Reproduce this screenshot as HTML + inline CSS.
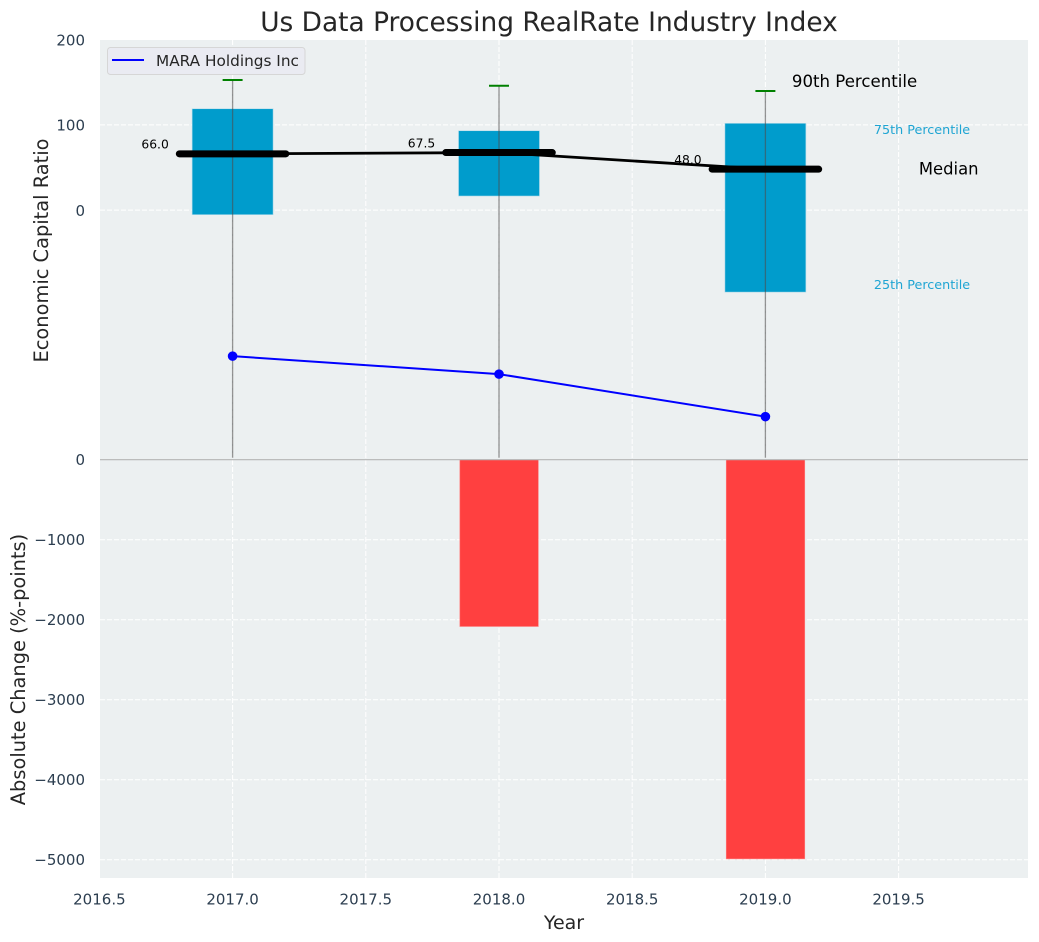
<!DOCTYPE html>
<html>
<head>
<meta charset="utf-8">
<title>Us Data Processing RealRate Industry Index</title>
<style>
html,body{margin:0;padding:0;background:#fff;}
svg{display:block;font-family:"DejaVu Sans","Liberation Sans",sans-serif;}
</style>
</head>
<body>
<svg id="chart" xmlns="http://www.w3.org/2000/svg" width="1039" height="942" viewBox="0 0 1039 942"></svg>
<script>
const years = [2017, 2018, 2019];
const p90 = [152.6, 145.9, 139.7];
const p75 = [118.9, 93.1, 101.8];
const medians = [66, 67.5, 48];
const p25 = [-5.4, 16.5, -96.2];
const whiskerLow = [-290.5, -290.5, -290.5];
const company = [-171.3, -192.4, -242.3];
const absChange = [0, -2085, -4990];
const xTicks = [2016.5, 2017, 2017.5, 2018, 2018.5, 2019, 2019.5];
const xTickLabels = ['2016.5', '2017.0', '2017.5', '2018.0', '2018.5', '2019.0', '2019.5'];
const upperTicks = [0, 100, 200];
const upperTickLabels = ['0', '100', '200'];
const lowerTicks = [0, -1000, -2000, -3000, -4000, -5000];
const lowerTickLabels = ['0', '\u22121000', '\u22122000', '\u22123000', '\u22124000', '\u22125000'];
const medianLabels = ['66.0', '67.5', '48.0'];
const companyName = 'MARA Holdings Inc';

const svg = document.getElementById('chart');
const NS = 'http://www.w3.org/2000/svg';
const plotLeft = 100, plotRight = 1028, upperTop = 40, upperBottom = 459.5, lowerBottom = 878;

function xScale(v) { return 232.6 + (v - 2017) * 266.4; }
function yUpper(v) { return 210.1 - v * 0.8525; }
function yLower(v) { return 459.7 - v * 0.0800; }

function make(tag, attrs, text) {
  const el = document.createElementNS(NS, tag);
  for (const k in attrs) el.setAttribute(k, attrs[k]);
  if (text !== undefined) el.textContent = text;
  svg.appendChild(el);
  return el;
}

let el;

el = make('rect', {x: plotLeft, y: upperTop, width: plotRight - plotLeft, height: lowerBottom - upperTop, fill: '#ecf0f1'});



xTicks.forEach(function (t, i) {
  const x = xScale(t);
  if (x > plotLeft + 1) {
    el = make('line', {x1: x, x2: x, y1: upperTop, y2: lowerBottom, stroke: '#fff', 'stroke-width': 1, 'stroke-dasharray': '5 2'});
    
    
  }
  el = make('text', {x: x, y: 904.5, 'text-anchor': 'middle', 'font-size': 15, fill: '#2c3e50'}, xTickLabels[i]);
  
  
});

upperTicks.forEach(function (t, i) {
  const y = yUpper(t);
  if (t !== 200) {
    el = make('line', {x1: plotLeft, x2: plotRight, y1: y, y2: y, stroke: '#fff', 'stroke-width': 1, 'stroke-dasharray': '5 2'});
    
    
  }
  el = make('text', {x: 85, y: y + 5.8, 'text-anchor': 'end', 'font-size': 15, fill: '#2c3e50'}, upperTickLabels[i]);
  
  
});

lowerTicks.forEach(function (t, i) {
  const y = yLower(t);
  if (t !== 0) {
    el = make('line', {x1: plotLeft, x2: plotRight, y1: y, y2: y, stroke: '#fff', 'stroke-width': 1, 'stroke-dasharray': '5 2'});
    
    
  }
  el = make('text', {x: 85, y: y + 5.5, 'text-anchor': 'end', 'font-size': 15, fill: '#2c3e50'}, lowerTickLabels[i]);
  
  
});

const boxHalf = 0.152;
const barHalf = 0.15;
years.forEach(function (yr, i) {
  const x0 = xScale(yr - boxHalf), x1 = xScale(yr + boxHalf);
  el = make('rect', {x: x0, y: yUpper(p75[i]), width: x1 - x0, height: yUpper(p25[i]) - yUpper(p75[i]), fill: '#009ccc', stroke: '#b5dcea', 'stroke-width': 0.6});
  
  

  el = make('line', {x1: xScale(yr), x2: xScale(yr), y1: yUpper(p90[i]), y2: yUpper(whiskerLow[i]), stroke: '#4d4d4d', 'stroke-opacity': 0.6, 'stroke-width': 1.3});
  
  

  el = make('line', {x1: xScale(yr - 0.0375), x2: xScale(yr + 0.0375), y1: yUpper(p90[i]), y2: yUpper(p90[i]), stroke: '#008000', 'stroke-width': 2});
  
  

  if (absChange[i] !== 0) {
    const bx0 = xScale(yr - barHalf), bx1 = xScale(yr + barHalf);
    el = make('rect', {x: bx0 + 0.8, y: yLower(0), width: bx1 - bx0 - 1.4, height: yLower(absChange[i]) - yLower(0), fill: '#ff4040', stroke: '#ff8080', 'stroke-width': 0.6});
    
    
  }
});

el = make('line', {x1: plotLeft, x2: plotRight, y1: 459.7, y2: 459.7, stroke: '#b4b4b4', 'stroke-width': 1.2});



el = make('polyline', {points: years.map(function (yr, i) { return xScale(yr) + ',' + yUpper(medians[i]); }).join(' '), fill: 'none', stroke: '#000', 'stroke-width': 2.8});



years.forEach(function (yr, i) {
  const y = yUpper(medians[i]);
  el = make('line', {x1: xScale(yr - 0.2), x2: xScale(yr + 0.2), y1: y, y2: y, stroke: '#000', 'stroke-width': 7, 'stroke-linecap': 'round'});
  
  

  el = make('text', {x: xScale(yr) - 77.5, y: y - 5.2, 'text-anchor': 'middle', 'font-size': 12.3, fill: '#000'}, medianLabels[i]);
  
  
});

el = make('polyline', {points: years.map(function (yr, i) { return xScale(yr) + ',' + yUpper(company[i]); }).join(' '), fill: 'none', stroke: '#0000ff', 'stroke-width': 2});



years.forEach(function (yr, i) {
  el = make('circle', {cx: xScale(yr), cy: yUpper(company[i]), r: 4.8, fill: '#0000ff'});
  
  
});

const last = years.length - 1;
const lastX = xScale(years[last]);

el = make('text', {x: lastX + 26.5, y: yUpper(p90[last]) - 4, 'font-size': 16.6, fill: '#000'}, '90th Percentile');



el = make('text', {x: lastX + 108.5, y: yUpper(p75[last]) + 10.7, 'font-size': 12.75, fill: '#1fa5d3'}, '75th Percentile');



el = make('text', {x: lastX + 153.5, y: yUpper(medians[last]) + 5.1, 'font-size': 16.4, fill: '#000'}, 'Median');



el = make('text', {x: lastX + 108.5, y: yUpper(p25[last]) - 3.2, 'font-size': 12.75, fill: '#1fa5d3'}, '25th Percentile');



el = make('rect', {x: 107.5, y: 47.5, width: 197.5, height: 27, rx: 3, fill: '#eaeaf2', 'fill-opacity': 0.9, stroke: '#d6d6d6', 'stroke-width': 1});



el = make('line', {x1: 112, x2: 144, y1: 60, y2: 60, stroke: '#0000ff', 'stroke-width': 2});



el = make('text', {x: 156, y: 66, 'font-size': 15.3, fill: '#262626'}, companyName);



el = make('text', {x: 549, y: 31, 'text-anchor': 'middle', 'font-size': 26.4, fill: '#262626'}, 'Us Data Processing RealRate Industry Index');



el = make('text', {x: 564, y: 929, 'text-anchor': 'middle', 'font-size': 19, fill: '#262626'}, 'Year');



el = make('text', {transform: 'translate(48,250.5) rotate(-90)', 'text-anchor': 'middle', 'font-size': 19.4, fill: '#262626'}, 'Economic Capital Ratio');



el = make('text', {transform: 'translate(25,669.5) rotate(-90)', 'text-anchor': 'middle', 'font-size': 19.4, fill: '#262626'}, 'Absolute Change (%-points)');


</script>
</body>
</html>
